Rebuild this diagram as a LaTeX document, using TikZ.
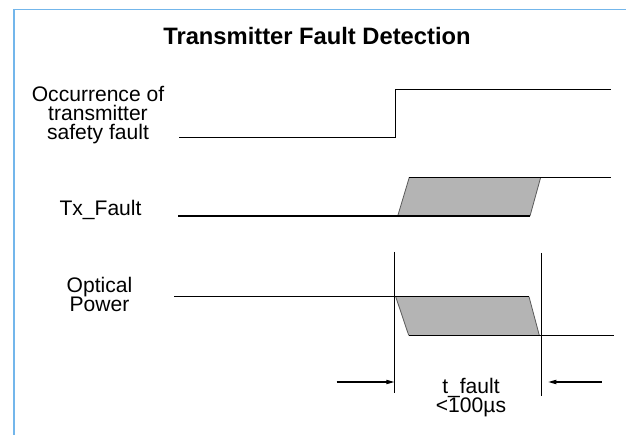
\documentclass[tikz,border=0pt]{standalone}
\usepackage{fontspec}
\setmainfont{Liberation Sans}
\usetikzlibrary{arrows.meta}
\definecolor{framecol}{RGB}{115,182,235}
\definecolor{fillgray}{RGB}{180,180,180}
\definecolor{edgegray}{RGB}{90,90,90}
\begin{document}
\begin{tikzpicture}[x=0.75pt,y=-0.75pt,
  signal/.style={line width=1pt,black},
  slant/.style={line width=0.6pt,edgegray},
  marker/.style={line width=0.8pt,black},
  dim/.style={line width=0.8pt,black,-{Triangle[length=6pt,width=3.2pt]}},
  lbl/.style={font=\fontsize{15.8pt}{14.2pt}\selectfont,align=center,anchor=base,inner sep=0pt},
  ttl/.style={font=\fontsize{17.8pt}{20pt}\selectfont\bfseries,anchor=base,inner sep=0pt}]
\useasboundingbox (0,0) rectangle (626,435);
% frame
\draw[framecol,line width=0.8pt] (14,435) -- (14,9.7) -- (626,9.7);
% title
\node[ttl] (title) at (317,44.3) {Transmitter Fault Detection};
% labels (base anchor = baseline of last line)
\node[lbl] (occ) at (98,139.7) {Occurrence of\\transmitter\\safety fault};
\node[lbl] (tx) at (100.5,216) {Tx\_Fault};
\node[lbl] (opt) at (99.5,311.7) {Optical\\Power};
% signal 1
\coordinate (s1a) at (179,137.3);
\coordinate (s1b) at (395.7,137.3);
\coordinate (s1c) at (395.7,89.3);
\coordinate (s1d) at (610.7,89.3);
\draw[signal] (s1a) -- (s1b) -- (s1c) -- (s1d);
% Tx_Fault
\coordinate (t1) at (178,216);
\coordinate (t2) at (397.7,216);
\coordinate (t3) at (409.3,177.3);
\coordinate (t4) at (540.7,177.3);
\coordinate (t5) at (530,216);
\coordinate (t6) at (610.7,177.3);
\fill[fillgray] (t2) -- (t3) -- (t4) -- (t5) -- cycle;
\draw[slant] (t2) -- (t3) (t4) -- (t5);
\draw[signal] (t1) -- (t5);
\draw[signal] (t3) -- (t6);
% Optical power
\coordinate (o1) at (174,296.7);
\coordinate (o2) at (395.7,296.7);
\coordinate (o3) at (529,296.7);
\coordinate (o4) at (539.3,335.3);
\coordinate (o5) at (408.7,335.3);
\coordinate (o6) at (614,335.3);
\fill[fillgray] (o2) -- (o3) -- (o4) -- (o5) -- cycle;
\draw[slant] (o2) -- (o5) (o3) -- (o4);
\draw[signal] (o1) -- (o3);
\draw[signal] (o5) -- (o6);
% markers
\coordinate (m1t) at (394.3,252);
\coordinate (m1b) at (394.3,392.7);
\coordinate (m2t) at (541.5,253);
\coordinate (m2b) at (541.5,395.7);
\draw[marker] (m1t) -- (m1b);
\draw[marker] (m2t) -- (m2b);
% dimension arrows
\coordinate (a1s) at (336.7,382);
\coordinate (a1e) at (394.3,382);
\coordinate (a2s) at (601.7,382);
\coordinate (a2e) at (548.3,382);
\draw[dim] (a1s) -- (a1e);
\draw[dim] (a2s) -- (a2e);
\node[lbl] (tf) at (471,412.7) {t\_fault\\<100µs};
\end{tikzpicture}
\end{document}
